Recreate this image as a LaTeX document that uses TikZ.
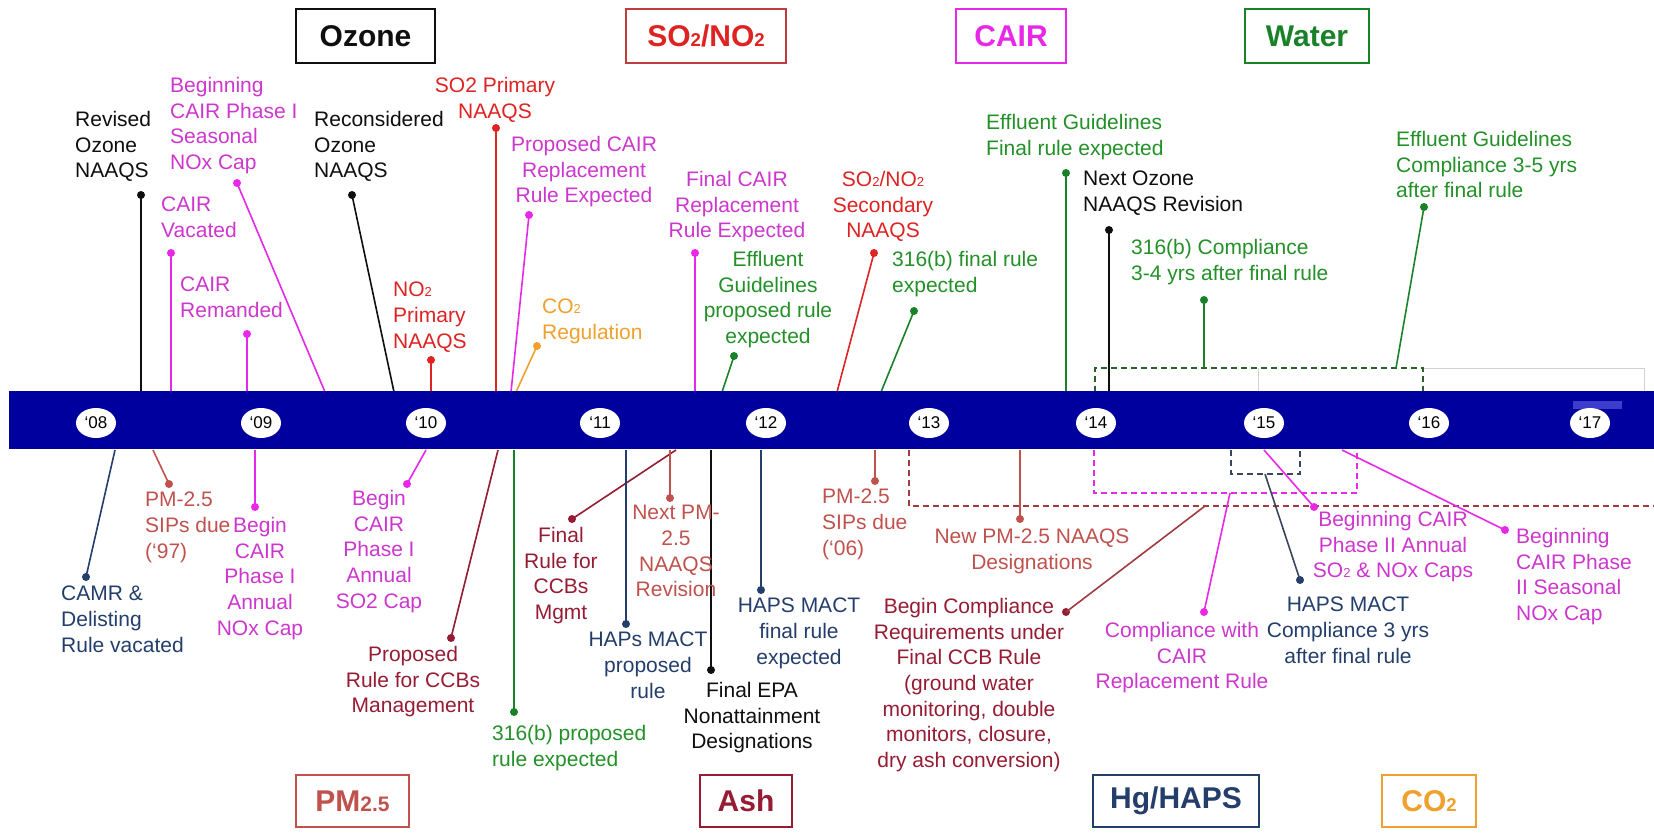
\documentclass[tikz,border=0pt]{standalone}
\usepackage{fontspec}
\setmainfont{Liberation Sans}
\usetikzlibrary{shapes.geometric}
\definecolor{barblue}{RGB}{0,0,158}
\definecolor{barlite}{RGB}{60,60,205}
\definecolor{blk}{RGB}{15,15,15}
\definecolor{redt}{RGB}{222,35,35}
\definecolor{redb}{RGB}{190,60,60}
\definecolor{magt}{RGB}{205,55,205}
\definecolor{magl}{RGB}{232,40,232}
\definecolor{grnt}{RGB}{35,145,40}
\definecolor{grnl}{RGB}{25,130,40}
\definecolor{grnd}{RGB}{45,95,45}
\definecolor{orgt}{RGB}{240,160,45}
\definecolor{pmt}{RGB}{192,82,78}
\definecolor{asht}{RGB}{150,28,52}
\definecolor{ashl}{RGB}{160,60,65}
\definecolor{hapt}{RGB}{36,62,108}
\definecolor{hapd}{RGB}{60,70,90}
\definecolor{lgray}{RGB}{205,212,205}
\newcommand\subtwo{\scalebox{0.62}{2}}
\tikzset{
  lbl/.style={inner sep=0pt, font=\fontsize{21}{25.7}\selectfont, execute at begin node=\strut},
  lbll/.style={lbl, align=left, anchor=north west, text=#1},
  lblc/.style={lbl, align=center, anchor=north, text=#1},
  dotn/.style={circle, fill=#1, inner sep=0pt, minimum size=8pt},
  conn/.style={line width=1.6pt, draw=#1},
  catbox/.style={draw=#1, line width=1.6pt, inner sep=0pt, font=\bfseries\fontsize{30}{36}\selectfont},
  yr/.style={ellipse, fill=white, inner sep=0pt, minimum width=40pt, minimum height=30pt, font=\fontsize{17}{17}\selectfont},
  dsh/.style={line width=1.4pt, dash pattern=on 6pt off 4pt, draw=#1},
}
\begin{document}
\begin{tikzpicture}[x=1pt,y=-1pt]
\useasboundingbox[fill=white] (0,0) rectangle (1654,833);

% ---------- dashed brackets ----------
\draw[lgray, line width=0.8pt] (1423,368) -- (1644,368) -- (1644,392);
\draw[lgray, line width=0.8pt] (1258,368) -- (1258,392);
\draw[dsh=grnd] (1095,392) -- (1095,368) -- (1423,368) -- (1423,392);
\draw[dsh=ashl] (909,450) -- (909,506) -- (1654,506);
\draw[dsh=magl] (1094,450) -- (1094,493) -- (1357,493) -- (1357,450);
\draw[dsh=hapd] (1231,450) -- (1231,474) -- (1300,474) -- (1300,450);

% ---------- dots ----------
\node[dotn=blk]  (dA1)  at (141,195) {};
\node[dotn=magl] (dA2)  at (237,183) {};
\node[dotn=magl] (dA3)  at (171,253) {};
\node[dotn=magl] (dA4)  at (247,334) {};
\node[dotn=blk]  (dA5)  at (352,195) {};
\node[dotn=redt] (dA6)  at (431,360) {};
\node[dotn=redt] (dA7)  at (496,128) {};
\node[dotn=magl] (dA8)  at (529,215) {};
\node[dotn=orgt] (dA9)  at (537,346) {};
\node[dotn=magl] (dA10) at (695,253) {};
\node[dotn=grnl] (dA11) at (734,356) {};
\node[dotn=redt] (dA12) at (874,253) {};
\node[dotn=grnl] (dA13) at (914,311) {};
\node[dotn=grnl] (dA14) at (1066,173) {};
\node[dotn=blk]  (dA15) at (1109,230) {};
\node[dotn=grnl] (dA16) at (1204,300) {};
\node[dotn=grnl] (dA17) at (1424,207) {};

\node[dotn=hapt] (dB1)  at (86,577) {};
\node[dotn=pmt]  (dB2)  at (169,484) {};
\node[dotn=magl] (dB3)  at (255,507) {};
\node[dotn=magl] (dB4)  at (407,484) {};
\node[dotn=asht] (dB5)  at (451,638) {};
\node[dotn=grnl] (dB6)  at (514,712) {};
\node[dotn=asht] (dB7)  at (572,519) {};
\node[dotn=pmt]  (dB8)  at (670,498) {};
\node[dotn=hapt] (dB9)  at (626,624) {};
\node[dotn=blk]  (dB10) at (711,670) {};
\node[dotn=hapt] (dB11) at (761,590) {};
\node[dotn=pmt]  (dB12) at (875,481) {};
\node[dotn=pmt]  (dB13) at (1020,519) {};
\node[dotn=asht] (dB14) at (1066,612) {};
\node[dotn=magl] (dB15) at (1204,612) {};
\node[dotn=hapt] (dB16) at (1300,580) {};
\node[dotn=magl] (dB17) at (1314,507) {};
\node[dotn=magl] (dB18) at (1505,530) {};

% ---------- connector ends ----------
\coordinate (eA1) at (141,392);  \coordinate (eA2) at (325,392);
\coordinate (eA3) at (171,392);  \coordinate (eA4) at (247,392);
\coordinate (eA5) at (394,392);  \coordinate (eA6) at (431,392);
\coordinate (eA7) at (496,392);  \coordinate (eA8) at (511,392);
\coordinate (eA9) at (516,392);  \coordinate (eA10) at (695,392);
\coordinate (eA11) at (722,392); \coordinate (eA12) at (837,392);
\coordinate (eA13) at (881,392); \coordinate (eA14) at (1066,392);
\coordinate (eA15) at (1109,392);\coordinate (eA16) at (1204,368);
\coordinate (eA17) at (1396,368);
\coordinate (eB1) at (115,450);  \coordinate (eB2) at (153,450);
\coordinate (eB3) at (255,450);  \coordinate (eB4) at (426,450);
\coordinate (eB5) at (498,450);  \coordinate (eB6) at (514,450);
\coordinate (eB7) at (676,450);  \coordinate (eB8) at (670,450);
\coordinate (eB9) at (626,450);  \coordinate (eB10) at (711,450);
\coordinate (eB11) at (761,450); \coordinate (eB12) at (875,450);
\coordinate (eB13) at (1020,450);\coordinate (eB14) at (1205,506);
\coordinate (eB15) at (1230,493);\coordinate (eB16) at (1265,474);
\coordinate (eB17) at (1264,450);\coordinate (eB18) at (1342,450);

% ---------- connectors ----------
\draw[conn=blk]  (dA1.center) -- (eA1);
\draw[conn=magl] (dA2.center) -- (eA2);
\draw[conn=magl] (dA3.center) -- (eA3);
\draw[conn=magl] (dA4.center) -- (eA4);
\draw[conn=blk]  (dA5.center) -- (eA5);
\draw[conn=redt] (dA6.center) -- (eA6);
\draw[conn=redt] (dA7.center) -- (eA7);
\draw[conn=magl] (dA8.center) -- (eA8);
\draw[conn=orgt] (dA9.center) -- (eA9);
\draw[conn=magl] (dA10.center) -- (eA10);
\draw[conn=grnl] (dA11.center) -- (eA11);
\draw[conn=redt] (dA12.center) -- (eA12);
\draw[conn=grnl] (dA13.center) -- (eA13);
\draw[conn=grnl] (dA14.center) -- (eA14);
\draw[conn=blk]  (dA15.center) -- (eA15);
\draw[conn=grnl] (dA16.center) -- (eA16);
\draw[conn=grnl] (dA17.center) -- (eA17);
\draw[conn=hapt] (dB1.center) -- (eB1);
\draw[conn=pmt]  (dB2.center) -- (eB2);
\draw[conn=magl] (dB3.center) -- (eB3);
\draw[conn=magl] (dB4.center) -- (eB4);
\draw[conn=asht] (dB5.center) -- (eB5);
\draw[conn=grnl] (dB6.center) -- (eB6);
\draw[conn=asht] (dB7.center) -- (eB7);
\draw[conn=pmt]  (dB8.center) -- (eB8);
\draw[conn=hapt] (dB9.center) -- (eB9);
\draw[conn=blk]  (dB10.center) -- (eB10);
\draw[conn=hapt] (dB11.center) -- (eB11);
\draw[conn=pmt]  (dB12.center) -- (eB12);
\draw[conn=pmt]  (dB13.center) -- (eB13);
\draw[conn=ashl] (dB14.center) -- (eB14);
\draw[conn=magl] (dB15.center) -- (eB15);
\draw[conn=hapd] (dB16.center) -- (eB16);
\draw[conn=magl] (dB17.center) -- (eB17);
\draw[conn=magl] (dB18.center) -- (eB18);

% ---------- timeline bar ----------
\fill[barblue] (9,391) rectangle (1654,449);
\fill[barlite] (1573,401) rectangle (1622,409);
\node[yr] (y08) at (96,423)   {‘08};
\node[yr] (y09) at (261,423)  {‘09};
\node[yr] (y10) at (426,423)  {‘10};
\node[yr] (y11) at (600,423)  {‘11};
\node[yr] (y12) at (766,423)  {‘12};
\node[yr] (y13) at (929,423)  {‘13};
\node[yr] (y14) at (1096,423) {‘14};
\node[yr] (y15) at (1264,423) {‘15};
\node[yr] (y16) at (1429,423) {‘16};
\node[yr] (y17) at (1590,423) {‘17};

% ---------- category boxes ----------
\node[catbox=blk,  text=blk,  minimum width=139pt, minimum height=54pt] (kOz)  at (365.5,36) {Ozone};
\node[catbox=redb, text=redt, minimum width=160pt, minimum height=54pt] (kSN)  at (706,36) {SO\subtwo/NO\subtwo};
\node[catbox=magl, text=magl, minimum width=110pt, minimum height=54pt] (kCA)  at (1011,36) {CAIR};
\node[catbox=grnl, text=grnl, minimum width=124pt, minimum height=54pt] (kWa)  at (1307,36) {Water};
\node[catbox=pmt,  text=pmt,  minimum width=113pt, minimum height=52pt] (kPM)  at (352.5,801) {PM{\fontsize{21}{21}\selectfont 2.5}};
\node[catbox=asht, text=asht, minimum width=92pt,  minimum height=52pt] (kAsh) at (746,801) {Ash};
\node[catbox=hapt, text=hapt, minimum width=166pt, minimum height=52pt] (kHg)  at (1176,801) {Hg/HAPS};
\node[catbox=orgt, text=orgt, minimum width=94pt,  minimum height=52pt] (kCO)  at (1429,801) {CO\subtwo};

% ---------- labels above ----------
\node[lbll=blk]  (tA1)  at (75,111)   {Revised\\Ozone\\NAAQS};
\node[lbll=magt] (tA2)  at (170,77)   {Beginning\\CAIR Phase I\\Seasonal\\NOx Cap};
\node[lbll=magt] (tA3)  at (161,197)  {CAIR\\Vacated};
\node[lbll=magt] (tA4)  at (180,277)  {CAIR\\Remanded};
\node[lbll=blk]  (tA5)  at (314,111)  {Reconsidered\\Ozone\\NAAQS};
\node[lbll=redt] (tA6)  at (393,282)  {NO\subtwo\\Primary\\NAAQS};
\node[lblc=redt] (tA7)  at (495,77)   {SO2 Primary\\NAAQS};
\node[lblc=magt] (tA8)  at (584,136)  {Proposed CAIR\\Replacement\\Rule Expected};
\node[lbll=orgt] (tA9)  at (542,299)  {CO\subtwo\\Regulation};
\node[lblc=magt] (tA10) at (737,171)  {Final CAIR\\Replacement\\Rule Expected};
\node[lblc=grnt] (tA11) at (768,251)  {Effluent\\Guidelines\\proposed rule\\expected};
\node[lblc=redt] (tA12) at (883,171)  {SO\subtwo/NO\subtwo\\Secondary\\NAAQS};
\node[lbll=grnt] (tA13) at (892,251)  {316(b) final rule\\expected};
\node[lbll=grnt] (tA14) at (986,114)  {Effluent Guidelines\\Final rule expected};
\node[lbll=blk]  (tA15) at (1083,171) {Next Ozone\\NAAQS Revision};
\node[lbll=grnt] (tA16) at (1131,239) {316(b) Compliance\\3-4 yrs after final rule};
\node[lbll=grnt] (tA17) at (1396,131) {Effluent Guidelines\\Compliance 3-5 yrs\\after final rule};

% ---------- labels below ----------
\node[lbll=hapt] (tB1)  at (61,586)   {CAMR \&\\Delisting\\Rule vacated};
\node[lbll=pmt]  (tB2)  at (145,492)  {PM-2.5\\SIPs due\\(‘97)};
\node[lblc=magt] (tB3)  at (260,517)  {Begin\\CAIR\\Phase I\\Annual\\NOx Cap};
\node[lblc=magt] (tB4)  at (379,490)  {Begin\\CAIR\\Phase I\\Annual\\SO2 Cap};
\node[lblc=asht] (tB5)  at (413,646)  {Proposed\\Rule for CCBs\\Management};
\node[lbll=grnt] (tB6)  at (492,725)  {316(b) proposed\\rule expected};
\node[lblc=asht] (tB7)  at (561,527)  {Final\\Rule for\\CCBs\\Mgmt};
\node[lblc=pmt]  (tB8)  at (676,505)  {Next PM-\\2.5\\NAAQS\\Revision};
\node[lblc=hapt] (tB9)  at (648,632)  {HAPs MACT\\proposed\\rule};
\node[lblc=blk]  (tB10) at (752,682)  {Final EPA\\Nonattainment\\Designations};
\node[lblc=hapt] (tB11) at (799,598)  {HAPS MACT\\final rule\\expected};
\node[lbll=pmt]  (tB12) at (822,489)  {PM-2.5\\SIPs due\\(‘06)};
\node[lblc=pmt]  (tB13) at (1032,529) {New PM-2.5 NAAQS\\Designations};
\node[lblc=asht] (tB14) at (969,598)  {Begin Compliance\\Requirements under\\Final CCB Rule\\(ground water\\monitoring, double\\monitors, closure,\\dry ash conversion)};
\node[lblc=magt] (tB15) at (1182,622) {Compliance with\\CAIR\\Replacement Rule};
\node[lblc=hapt] (tB16) at (1348,597) {HAPS MACT\\Compliance 3 yrs\\after final rule};
\node[lblc=magt] (tB17) at (1393,511) {Beginning CAIR\\Phase II Annual\\SO\subtwo{} \& NOx Caps};
\node[lbll=magt] (tB18) at (1516,528) {Beginning\\CAIR Phase\\II Seasonal\\NOx Cap};
\end{tikzpicture}
\end{document}
